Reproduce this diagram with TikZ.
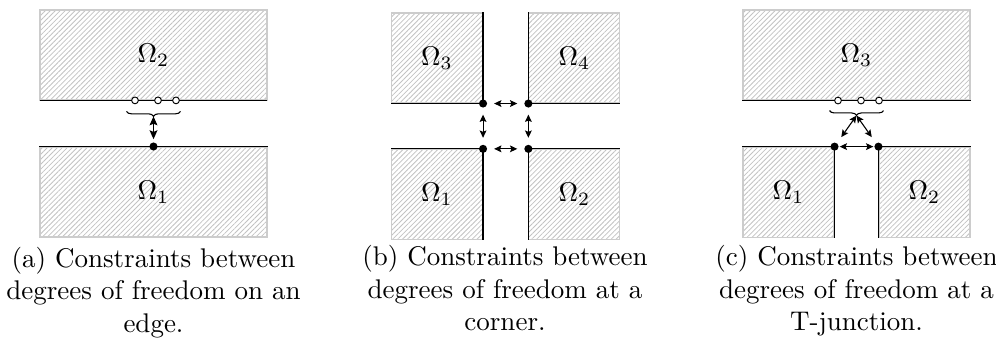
\documentclass[tikz,border=0pt]{standalone}
\usepackage{amsmath,amssymb}
\usepackage{tikz}
\usetikzlibrary{arrows.meta,positioning,patterns.meta,decorations.pathreplacing,calc}
\newcommand{\px}{0.013021cm}

\begin{document}
\begin{tikzpicture}[
  x=\px, y=\px, >={Stealth[length=2.7pt,width=2.5pt,inset=0.5pt]},
  dom/.style={draw=gray!40,pattern={Lines[angle=45,distance=1.3pt,line width=0.3pt]},pattern color=gray!48,minimum height=90*\px,inner sep=0pt},
  iface/.style={line width=0.42pt},
  dof/.style={circle,fill,inner sep=0pt,minimum size=3pt},
  hdof/.style={circle,draw,fill=white,inner sep=0pt,minimum size=2.5pt,line width=0.35pt},
  grp/.style={decorate,decoration={brace,mirror,amplitude=1.8pt}},
  subcap/.style={align=center,anchor=north,inner sep=0pt}]
\useasboundingbox (0,0) rectangle (996,339);
% (a) edge
\node[dom,minimum width=227*\px] (ea2) at (153.5,284) {$\Omega_2$};
\node[dom,minimum width=227*\px,below=6mm of ea2] (ea1) {$\Omega_1$};
\draw[iface] (ea2.south west) -- (ea2.south east);
\draw[iface] (ea1.north west) -- (ea1.north east);
\node[dof] (ea1d) at (ea1.north) {};
\foreach \i/\dx in {1/-18.5,2/4.5,3/22.5} \node[hdof] (ea2c\i) at ($(ea2.south)+(\dx,0)$) {};
\coordinate (eal) at ($(ea2.south)+(-27,-11)$);
\coordinate (ear) at ($(ea2.south)+(27,-11)$);
\coordinate (eat) at ($(ea2.south)+(0,-16)$);
\draw[grp] (eal) -- (ear);
\draw[<->,>={Stealth[length=3.3pt,width=2.9pt,inset=0.6pt]},shorten >=1pt] (eat) -- (ea1d);
\node[subcap,below=1.2mm of ea1] (capa) {(a) Constraints between\\degrees of freedom on an\\edge.};
% (b) corner
\node[dom,minimum width=91*\px] (cb3) at (437,281) {$\Omega_3$};
\node[dom,minimum width=91*\px,right=5.9mm of cb3] (cb4) {$\Omega_4$};
\node[dom,minimum width=91*\px,below=5.9mm of cb3] (cb1) {$\Omega_1$};
\node[dom,minimum width=91*\px,right=5.9mm of cb1] (cb2) {$\Omega_2$};
\draw[iface] (cb3.north east) -- (cb3.south east) -- (cb3.south west);
\draw[iface] (cb4.north west) -- (cb4.south west) -- (cb4.south east);
\draw[iface] (cb1.south east) -- (cb1.north east) -- (cb1.north west);
\draw[iface] (cb2.south west) -- (cb2.north west) -- (cb2.north east);
\node[dof] (cb3d) at (cb3.south east) {};
\node[dof] (cb4d) at (cb4.south west) {};
\node[dof] (cb1d) at (cb1.north east) {};
\node[dof] (cb2d) at (cb2.north west) {};
\foreach \x/\y in {cb3d/cb4d,cb1d/cb2d,cb3d/cb1d,cb4d/cb2d} \draw[<->,shorten <=2.4pt,shorten >=2.4pt] (\x) -- (\y);
\node[subcap] (capb) at (505,94) {(b) Constraints between\\degrees of freedom at a\\corner.};
% (c) T-junction
\node[dom,minimum width=227*\px] (tc3) at (856.5,284) {$\Omega_3$};
\node[dom,minimum width=91*\px,below=6mm of tc3.south west,anchor=north west] (tc1) {$\Omega_1$};
\node[dom,minimum width=91*\px,below=6mm of tc3.south east,anchor=north east] (tc2) {$\Omega_2$};
\draw[iface] (tc3.south west) -- (tc3.south east);
\draw[iface] (tc1.north west) -- (tc1.north east) -- (tc1.south east);
\draw[iface] (tc2.north east) -- (tc2.north west) -- (tc2.south west);
\node[dof] (tc1d) at (tc1.north east) {};
\node[dof] (tc2d) at (tc2.north west) {};
\foreach \i/\dx in {1/-18.5,2/4.5,3/22.5} \node[hdof] (tc3c\i) at ($(tc3.south)+(\dx,0)$) {};
\coordinate (tcl) at ($(tc3.south)+(-27,-10)$);
\coordinate (tcr) at ($(tc3.south)+(27,-10)$);
\coordinate (tct) at ($(tc3.south)+(0,-15)$);
\draw[grp] (tcl) -- (tcr);
\foreach \y in {tc1d,tc2d} \draw[<->,shorten >=2.6pt] (tct) -- (\y);
\draw[<->,shorten <=0.2pt,shorten >=0.2pt] (tc1d) -- (tc2d);
\node[subcap] (capc) at (856.5,94) {(c) Constraints between\\degrees of freedom at a\\T-junction.};
\end{tikzpicture}
\end{document}
